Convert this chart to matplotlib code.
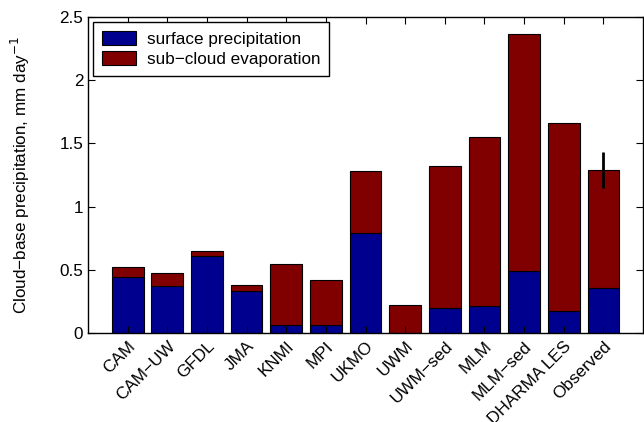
import matplotlib
matplotlib.use("Agg")
import matplotlib.pyplot as plt
import numpy as np

plt.rcParams['font.family'] = ['Liberation Sans', 'DejaVu Sans']
plt.rcParams['axes.unicode_minus'] = True

models = ["CAM", "CAM\u2212UW", "GFDL", "JMA", "KNMI", "MPI", "UKMO", "UWM",
          "UWM\u2212sed", "MLM", "MLM\u2212sed", "DHARMA LES", "Observed"]
surface_precip = [0.44, 0.37, 0.607, 0.33, 0.066, 0.06, 0.789, 0.0,
                  0.195, 0.211, 0.488, 0.172, 0.354]
cloud_base_total = [0.52, 0.475, 0.646, 0.38, 0.548, 0.42, 1.284, 0.219,
                    1.321, 1.551, 2.363, 1.664, 1.29]
obs_error = 0.145
yticks = [0, 0.5, 1, 1.5, 2, 2.5]
ytick_labels = ["0", "0.5", "1", "1.5", "2", "2.5"]

evap = [t - s for t, s in zip(cloud_base_total, surface_precip)]

fs = 12.3
fig = plt.figure(figsize=(6.44, 4.22), dpi=100)
ax = fig.add_axes([88/644, (422-333)/422, (643-88)/644, 316/422])

x = np.arange(1, len(models) + 1)
blue = (0, 0, 0.5625)
red = (0.5, 0, 0)
ax.bar(x, surface_precip, width=0.8, color=blue, edgecolor='black', linewidth=0.8,
       label='surface precipitation')
ax.bar(x, evap, bottom=surface_precip, width=0.8, color=red, edgecolor='black',
       linewidth=0.8, label='sub\u2212cloud evaporation')
ax.errorbar([x[-1]], [cloud_base_total[-1]], yerr=[obs_error], fmt='none',
            ecolor='black', elinewidth=2, capsize=0)

ax.set_xlim(0, 14)
ax.set_ylim(0, 2.5)
ax.set_yticks(yticks)
ax.set_yticklabels(ytick_labels)
ax.set_xticks(x)
ax.set_xticklabels(models, rotation=45, ha='right', rotation_mode='anchor')
ax.tick_params(direction='in', top=True, right=True, length=5, labelsize=fs,
               width=0.8)
ax.tick_params(axis='x', pad=4)
for s in ax.spines.values():
    s.set_linewidth(1.0)
ax.set_ylabel("Cloud\u2212base precipitation, mm day$^{-1}$", fontsize=fs)
ax.yaxis.set_label_coords(-0.1, 0.5)

leg = ax.legend(loc='upper left', fontsize=fs, frameon=True, fancybox=False,
                edgecolor='black', framealpha=1, handlelength=2.0, handleheight=0.9,
                borderaxespad=0.28, labelspacing=0.2, borderpad=0.55,
                handletextpad=0.6)
leg.get_frame().set_linewidth(1.0)

fig.savefig("out.png", dpi=100)
